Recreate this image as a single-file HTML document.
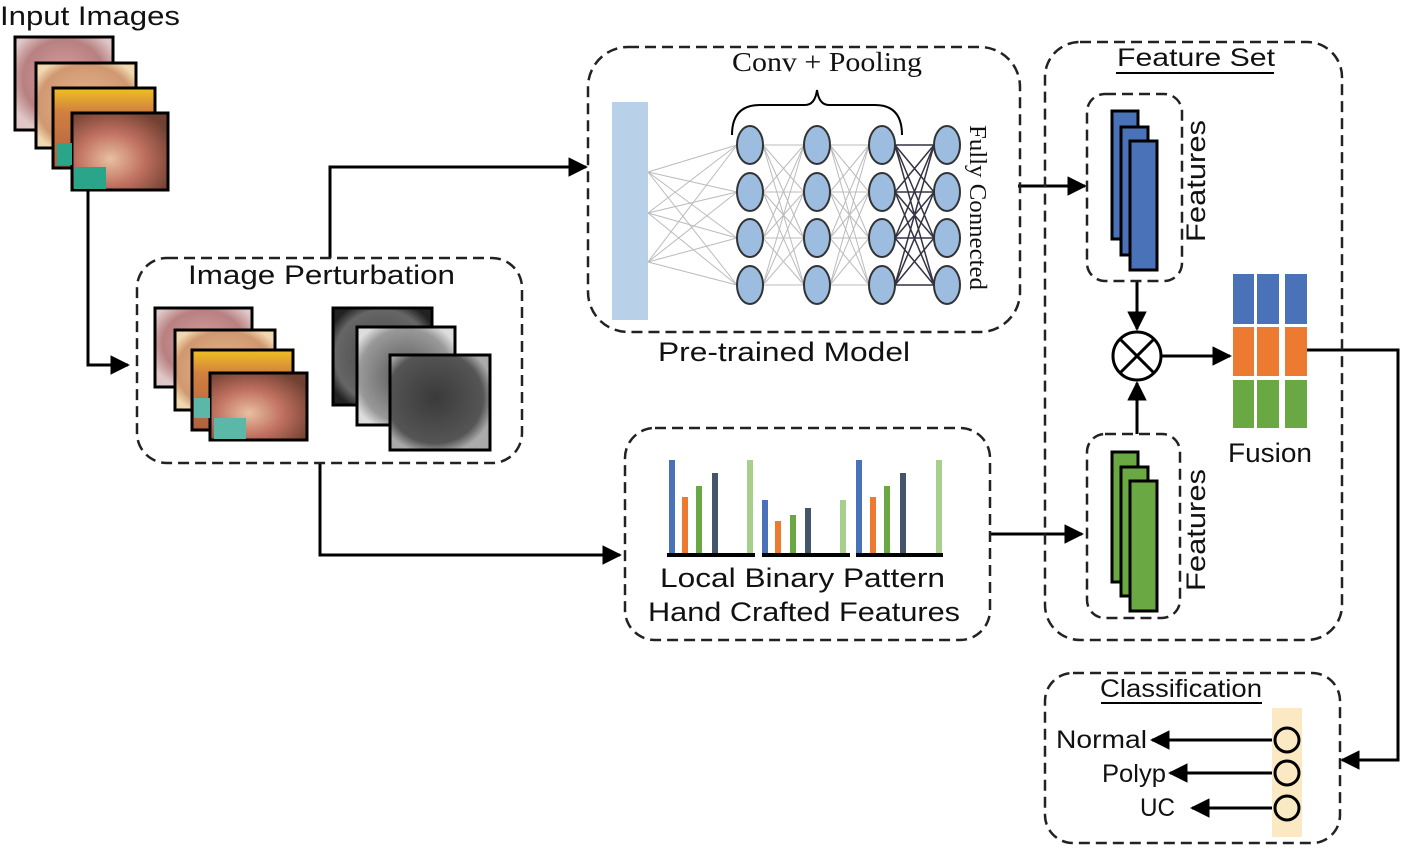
<!DOCTYPE html>
<html><head><meta charset="utf-8"><style>
body{margin:0;background:#fff}
svg text{font-family:"Liberation Sans",sans-serif;fill:#111}
</style></head><body>
<svg id="s" width="1405" height="853" viewBox="0 0 1405 853" xmlns="http://www.w3.org/2000/svg">
<defs>
<radialGradient id="c1" cx="50%" cy="45%" r="60%"><stop offset="0" stop-color="#d8a0a0"/><stop offset="0.7" stop-color="#b88080"/><stop offset="1" stop-color="#e0c8c8"/></radialGradient>
<radialGradient id="c2" cx="50%" cy="50%" r="60%"><stop offset="0" stop-color="#e8b890"/><stop offset="0.8" stop-color="#d09870"/><stop offset="1" stop-color="#f0d8b0"/></radialGradient>
<linearGradient id="c3" x1="0" y1="0" x2="0" y2="1"><stop offset="0" stop-color="#f0c020"/><stop offset="0.3" stop-color="#d08040"/><stop offset="1" stop-color="#b06040"/></linearGradient>
<radialGradient id="c4" cx="40%" cy="60%" r="70%"><stop offset="0" stop-color="#e8c0a0"/><stop offset="0.5" stop-color="#c07060"/><stop offset="1" stop-color="#704030"/></radialGradient>
<radialGradient id="g1" cx="50%" cy="50%" r="60%"><stop offset="0" stop-color="#444"/><stop offset="0.8" stop-color="#666"/><stop offset="1" stop-color="#222"/></radialGradient>
<radialGradient id="g2" cx="50%" cy="50%" r="60%"><stop offset="0" stop-color="#555"/><stop offset="0.8" stop-color="#999"/><stop offset="1" stop-color="#ddd"/></radialGradient>
<radialGradient id="g3" cx="45%" cy="45%" r="60%"><stop offset="0" stop-color="#3a3a3a"/><stop offset="0.8" stop-color="#555"/><stop offset="1" stop-color="#aaa"/></radialGradient>
<marker id="ah" viewBox="0 0 10 10" refX="9" refY="5" markerWidth="6.5" markerHeight="6.5" orient="auto-start-reverse"><path d="M0,0L10,5L0,10z" fill="#000"/></marker>
</defs>

<text x="0" y="25" font-size="27" textLength="180" lengthAdjust="spacingAndGlyphs">Input Images</text>
<g stroke="#000" stroke-width="3">
<rect x="15" y="37" width="98" height="93" fill="url(#c1)"/>
<rect x="36" y="63" width="100" height="85" fill="url(#c2)"/>
<rect x="53" y="88" width="102" height="80" fill="url(#c3)"/>
<rect x="72" y="113" width="96" height="77" fill="url(#c4)"/>
</g>
<rect x="57" y="143" width="15" height="22" fill="#2aa58a"/>
<rect x="74" y="167" width="32" height="22" fill="#2aa58a"/>

<g fill="none" stroke="#000" stroke-width="3">
<path d="M88,190V365H128" marker-end="url(#ah)"/>
<path d="M330,258V167H586" marker-end="url(#ah)"/>
<path d="M320,463V555H620" marker-end="url(#ah)"/>
<path d="M1018,186H1085" marker-end="url(#ah)"/>
<path d="M990,534H1082" marker-end="url(#ah)"/>
<path d="M1137,281V329" marker-end="url(#ah)"/>
<path d="M1137,434V383" marker-end="url(#ah)"/>
<path d="M1162,356H1230" marker-end="url(#ah)"/>
<path d="M1307,350H1398V760H1342" marker-end="url(#ah)"/>
<path d="M1275,740H1152" marker-end="url(#ah)"/>
<path d="M1275,773H1170" marker-end="url(#ah)"/>
<path d="M1275,808H1192" marker-end="url(#ah)"/>
</g>

<g fill="none" stroke="#222" stroke-width="2.5" stroke-dasharray="11,6">
<rect x="137" y="258" width="385" height="205" rx="30"/>
<rect x="588" y="47" width="432" height="285" rx="40"/>
<rect x="625" y="428" width="365" height="212" rx="30"/>
<rect x="1045" y="42" width="297" height="598" rx="35"/>
<rect x="1087" y="94" width="95" height="187" rx="18"/>
<rect x="1087" y="434" width="93" height="184" rx="18"/>
<rect x="1045" y="673" width="295" height="170" rx="28"/>
</g>

<text x="188" y="284" font-size="27" textLength="267" lengthAdjust="spacingAndGlyphs">Image Perturbation</text>
<g stroke="#000" stroke-width="3">
<rect x="155" y="308" width="97" height="79" fill="url(#c1)"/>
<rect x="175" y="330" width="100" height="80" fill="url(#c2)"/>
<rect x="192" y="350" width="101" height="80" fill="url(#c3)"/>
<rect x="210" y="373" width="97" height="67" fill="url(#c4)"/>
<rect x="333" y="308" width="99" height="97" fill="url(#g1)"/>
<rect x="357" y="327" width="98" height="98" fill="url(#g2)"/>
<rect x="390" y="355" width="100" height="95" fill="url(#g3)"/>
</g>
<rect x="194" y="398" width="16" height="20" fill="#5bb8a8"/>
<rect x="214" y="418" width="32" height="21" fill="#5bb8a8"/>

<!-- NN -->
<rect x="612" y="102" width="36" height="218" fill="#b8d0e8"/>
<g id="edges" stroke-width="1"></g>
<text x="732" y="71" font-size="27" textLength="190" lengthAdjust="spacingAndGlyphs" style="font-family:'Liberation Serif',serif">Conv + Pooling</text>
<path d="M732,135 Q732,105 760,105 H805 Q815,105 817,90 Q819,105 829,105 H875 Q902,105 902,135" fill="none" stroke="#000" stroke-width="2"/>
<g id="nodes" fill="#9dbde0" stroke="#333" stroke-width="2"></g>
<text transform="translate(970,125) rotate(90)" font-size="24" textLength="165" lengthAdjust="spacingAndGlyphs" style="font-family:'Liberation Serif',serif">Fully Connected</text>
<text x="658" y="361" font-size="27" textLength="252" lengthAdjust="spacingAndGlyphs">Pre-trained Model</text>

<!-- LBP -->
<g id="bars"></g>
<g stroke="#000" stroke-width="4"><path d="M667,555H755M762,555H850M856,555H943"/></g>
<text x="660" y="587" font-size="27" textLength="285" lengthAdjust="spacingAndGlyphs">Local Binary Pattern</text>
<text x="648" y="621" font-size="27" textLength="312" lengthAdjust="spacingAndGlyphs">Hand Crafted Features</text>

<!-- Feature set -->
<text x="1117" y="66" font-size="25" textLength="158" lengthAdjust="spacingAndGlyphs">Feature Set</text>
<path d="M1116,73H1274" stroke="#000" stroke-width="2"/>
<g stroke="#000" stroke-width="3" fill="#4a72b8">
<rect x="1112" y="111" width="26" height="128"/><rect x="1121" y="127" width="27" height="128"/><rect x="1130" y="141" width="27" height="129"/>
</g>
<g stroke="#000" stroke-width="3" fill="#6aa844">
<rect x="1112" y="452" width="26" height="130"/><rect x="1121" y="467" width="27" height="129"/><rect x="1130" y="481" width="27" height="130"/>
</g>
<text transform="translate(1205,242) rotate(-90)" font-size="27" textLength="122" lengthAdjust="spacingAndGlyphs">Features</text>
<text transform="translate(1205,591) rotate(-90)" font-size="27" textLength="122" lengthAdjust="spacingAndGlyphs">Features</text>
<circle cx="1137" cy="356" r="24" fill="#fff" stroke="#000" stroke-width="3"/>
<path d="M1120,339L1154,373M1154,339L1120,373" stroke="#000" stroke-width="3"/>
<g fill="#4a72b8"><rect x="1233" y="274" width="21" height="50"/><rect x="1257" y="274" width="22" height="50"/><rect x="1285" y="274" width="22" height="50"/></g>
<g fill="#ec7a30"><rect x="1233" y="327" width="21" height="49"/><rect x="1257" y="327" width="22" height="49"/><rect x="1285" y="327" width="22" height="49"/></g>
<g fill="#6aa844"><rect x="1233" y="380" width="21" height="48"/><rect x="1257" y="380" width="22" height="48"/><rect x="1285" y="380" width="22" height="48"/></g>
<text x="1228" y="462" font-size="27" textLength="84" lengthAdjust="spacingAndGlyphs">Fusion</text>

<!-- Classification -->
<text x="1100" y="697" font-size="25" textLength="162" lengthAdjust="spacingAndGlyphs">Classification</text>
<path d="M1101,703H1262" stroke="#000" stroke-width="2"/>
<rect x="1272" y="708" width="30" height="129" fill="#fbe9c4"/>
<g fill="none" stroke="#000" stroke-width="3">
<circle cx="1287" cy="740" r="12"/><circle cx="1287" cy="773" r="12"/><circle cx="1287" cy="808" r="12"/>
</g>
<text x="1056" y="748" font-size="25" textLength="91" lengthAdjust="spacingAndGlyphs">Normal</text>
<text x="1102" y="782" font-size="25" textLength="64" lengthAdjust="spacingAndGlyphs">Polyp</text>
<text x="1140" y="816" font-size="25" textLength="35" lengthAdjust="spacingAndGlyphs">UC</text>

<script>
var NS="http://www.w3.org/2000/svg";
var cols=[750,817,882,947], rows=[145,192,238,285];
var E=document.getElementById('edges'),N=document.getElementById('nodes'),B=document.getElementById('bars');
function ln(x1,y1,x2,y2,c,w){var l=document.createElementNS(NS,'line');l.setAttribute('x1',x1);l.setAttribute('y1',y1);l.setAttribute('x2',x2);l.setAttribute('y2',y2);l.setAttribute('stroke',c);l.setAttribute('stroke-width',w);E.appendChild(l);}
var ins=[172,213,262];
ins.forEach(function(y){rows.forEach(function(r){ln(648,y,737,r,'#bbb',1);});});
for(var c=0;c<3;c++){rows.forEach(function(r1){rows.forEach(function(r2){ln(cols[c]+13,r1,cols[c+1]-13,r2,c==2?'#334':'#bbb',c==2?1.5:1);});});}
cols.forEach(function(x){rows.forEach(function(y){var e=document.createElementNS(NS,'ellipse');e.setAttribute('cx',x);e.setAttribute('cy',y);e.setAttribute('rx',13);e.setAttribute('ry',19);N.appendChild(e);});});
var bars=[[672,460,'#4a72b8'],[685,497,'#ec7a30'],[699,486,'#6aa844'],[715,473,'#44546a'],[750,460,'#a8d08d'],
[765,500,'#4a72b8'],[778,521,'#ec7a30'],[793,515,'#6aa844'],[808,508,'#44546a'],[843,500,'#a8d08d'],
[859,460,'#4a72b8'],[873,497,'#ec7a30'],[887,486,'#6aa844'],[903,473,'#44546a'],[939,460,'#a8d08d']];
bars.forEach(function(b){var r=document.createElementNS(NS,'rect');r.setAttribute('x',b[0]-3);r.setAttribute('y',b[1]);r.setAttribute('width',6);r.setAttribute('height',554-b[1]);r.setAttribute('fill',b[2]);B.appendChild(r);});
</script>
</svg>
</body></html>
